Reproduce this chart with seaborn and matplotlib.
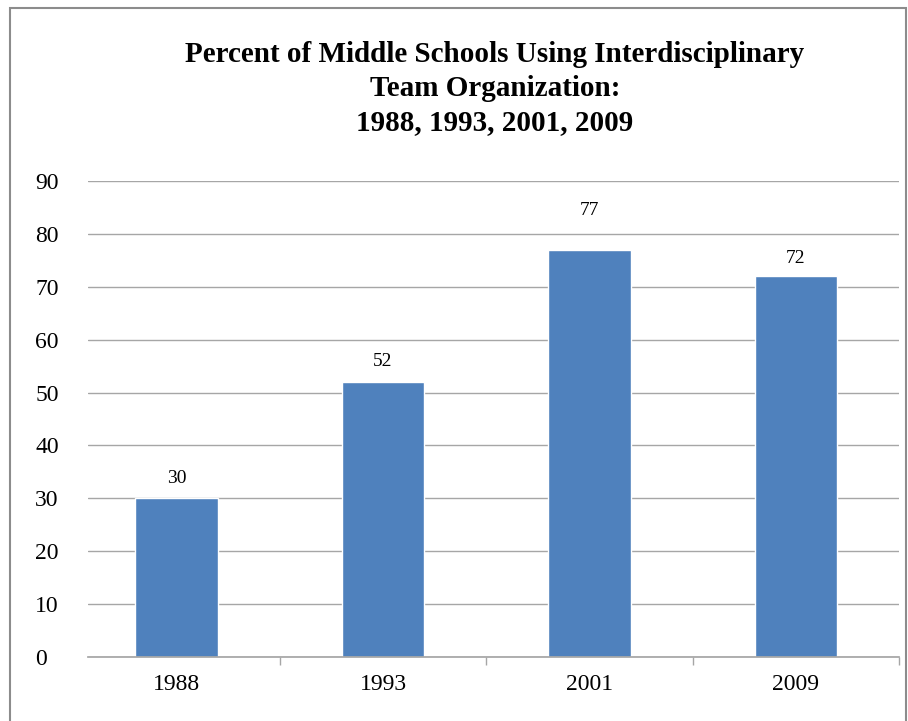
import pandas as pd
import seaborn as sns
import matplotlib.pyplot as plt
from matplotlib.patches import Rectangle

years = ['1988', '1993', '2001', '2009']
percent = [30, 52, 77, 72]
label_offsets = [14, 15, 28, 13]  # points above bar top

df = pd.DataFrame({'Year': years, 'Percent': percent})

sns.set_theme(style='white')
plt.rcParams['font.family'] = ['Liberation Serif', 'DejaVu Serif']

fig = plt.figure(figsize=(9.08, 7.21), dpi=100)
ax = fig.add_axes([88 / 908, 1 - 657 / 721, (899 - 88) / 908, (657 - 181) / 721])

sns.barplot(data=df, x='Year', y='Percent', color='#4F81BD', width=0.4,
            saturation=1, ax=ax, zorder=3)

ax.set_ylim(0, 90)
ax.set_xlim(-0.43, 3.5)
ax.set_yticks(range(0, 91, 10))
ax.yaxis.grid(True, color='#A6A6A6', linewidth=1, zorder=0)
ax.set_xlabel('')
ax.set_ylabel('')

for s in ['left', 'right', 'top']:
    ax.spines[s].set_visible(False)
ax.spines['bottom'].set_color('#A6A6A6')
ax.spines['bottom'].set_zorder(4)

ax.tick_params(axis='y', length=0, pad=38, labelsize=17, labelcolor='black')
for lbl in ax.get_yticklabels():
    lbl.set_horizontalalignment('left')
ax.tick_params(axis='x', length=0, pad=12, labelsize=17, labelcolor='black')
ax.set_xticks([0.5, 1.5, 2.5, 3.5], minor=True)
ax.tick_params(axis='x', which='minor', bottom=True, length=6, width=1,
               color='#A6A6A6', direction='out')

for bar, val, off in zip(ax.patches, percent, label_offsets):
    ax.annotate(str(val), (bar.get_x() + bar.get_width() / 2, bar.get_height()),
                xytext=(0, off), textcoords='offset points',
                ha='center', va='center', fontsize=14, color='black')

fig.text(495 / 908, 1 - 88.5 / 721,
         'Percent of Middle Schools Using Interdisciplinary\nTeam Organization:\n1988, 1993, 2001, 2009',
         ha='center', va='center', fontsize=21, fontweight='bold',
         linespacing=1.34, color='black')

fig.patches.append(Rectangle((9.5 / 908, -0.05), (906 - 9.5) / 908, 1.05 - 8.5 / 721,
                             transform=fig.transFigure, fill=False,
                             edgecolor='#8C8C8C', linewidth=1.5))

fig.savefig('out.png', dpi=100, facecolor='white')
